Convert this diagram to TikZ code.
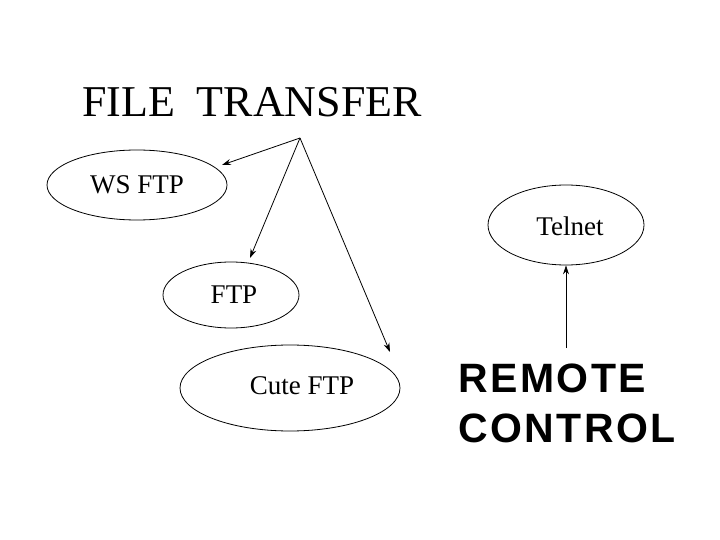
\documentclass[tikz,border=0pt]{standalone}
\usepackage{fontspec}
\setmainfont{Liberation Serif}
\newfontfamily\arial{Liberation Sans}[LetterSpace=6]
\usetikzlibrary{shapes.geometric,arrows.meta}
\begin{document}
\begin{tikzpicture}[x=1pt,y=-1pt,
  ell/.style={draw,thick,ellipse,inner sep=0pt},
  lbl/.style={font=\fontsize{27}{30}\selectfont},
  arr/.style={thick,-{Stealth[length=9pt,width=6pt]}}]
\useasboundingbox (0,0) rectangle (720,540);
\node[font=\fontsize{44}{48}\selectfont] (title) at (252,102) {FILE\ \ TRANSFER};
\coordinate (src) at (300,138);
\node[ell,minimum width=180,minimum height=70] (ws) at (137,185) {};
\node[lbl] at (137,185) {WS FTP};
\node[ell,minimum width=156,minimum height=80] (tel) at (566,225) {};
\node[lbl] at (570,226) {Telnet};
\node[ell,minimum width=136,minimum height=66] (ftp) at (231,295) {};
\node[lbl] at (234,295) {FTP};
\node[ell,minimum width=220,minimum height=86] (cute) at (290,388) {};
\node[lbl] at (302,386) {Cute FTP};
\node[font=\arial\bfseries\fontsize{41}{50}\selectfont,align=left,anchor=north west,inner sep=0pt] (rc) at (458,364) {REMOTE\\CONTROL};
\coordinate (rtop) at (566,348);
\draw[arr] (src) -- (222,165);
\draw[arr] (src) -- (250,258);
\draw[arr] (src) -- (390,352);
\draw[arr] (rtop) -- (tel.south);
\end{tikzpicture}
\end{document}
